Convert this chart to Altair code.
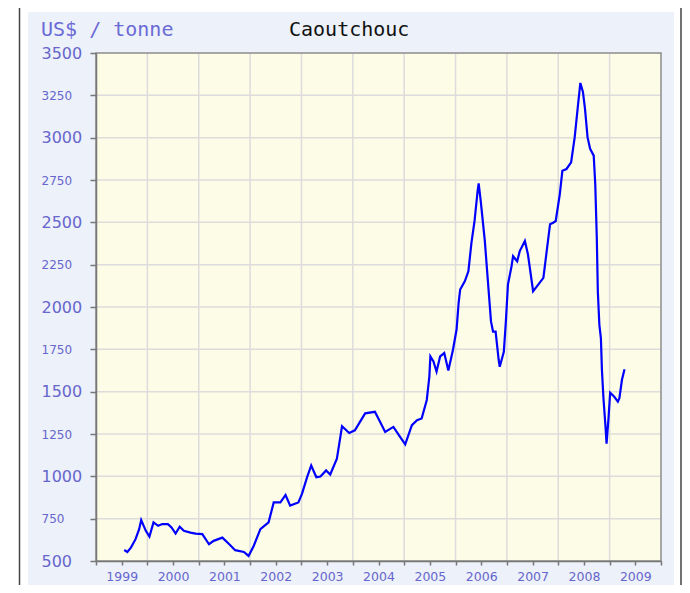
import altair as alt
import pandas as pd

# ---- data (decimal year, US$ per tonne) ----
years = [1999.55, 1999.61, 1999.68, 1999.77, 1999.84, 1999.88, 1999.97,
         2000.04, 2000.12, 2000.21, 2000.29, 2000.40, 2000.47, 2000.55, 2000.63, 2000.71, 2000.84, 2000.94,
         2001.07, 2001.20, 2001.29, 2001.46, 2001.58, 2001.71, 2001.88, 2001.97,
         2002.07, 2002.20, 2002.36, 2002.46, 2002.59, 2002.69, 2002.78, 2002.94,
         2003.01, 2003.11, 2003.19, 2003.29, 2003.37, 2003.48, 2003.56, 2003.69, 2003.79, 2003.93,
         2004.04, 2004.24, 2004.43, 2004.53, 2004.63, 2004.79, 2004.92,
         2005.02, 2005.15, 2005.25, 2005.34, 2005.44, 2005.49, 2005.51, 2005.57, 2005.63, 2005.70, 2005.78, 2005.86, 2005.95,
         2006.02, 2006.06, 2006.09, 2006.18, 2006.25, 2006.31, 2006.37, 2006.43, 2006.45, 2006.49, 2006.57, 2006.63,
         2006.69, 2006.73, 2006.78, 2006.84, 2006.86, 2006.94, 2006.98,
         2007.02, 2007.09, 2007.12, 2007.20, 2007.25, 2007.35, 2007.41, 2007.51, 2007.61, 2007.71, 2007.75, 2007.84, 2007.90, 2007.95,
         2008.03, 2008.08, 2008.16, 2008.25, 2008.32, 2008.38, 2008.43, 2008.48, 2008.52, 2008.57, 2008.62, 2008.69,
         2008.72, 2008.75, 2008.77, 2008.80, 2008.83, 2008.85, 2008.88, 2008.92, 2008.94, 2008.98,
         2009.01, 2009.09, 2009.16, 2009.19, 2009.24, 2009.29]
prices = [565, 553, 579, 629, 688, 742, 678,
          644, 728, 708, 718, 718, 698, 662, 702, 678, 668, 662,
          659, 599, 619, 638, 603, 564, 553, 530,
          589, 688, 728, 846, 846, 890, 827, 846,
          896, 995, 1064, 995, 999, 1035, 1011, 1104, 1296, 1256,
          1272, 1372, 1381, 1322, 1262, 1292, 1233,
          1189, 1302, 1332, 1342, 1451, 1589, 1708, 1678, 1619, 1708, 1728, 1625, 1748,
          1867, 2025, 2103, 2152, 2211, 2380, 2508, 2686, 2730, 2627, 2390, 2152,
          1915, 1855, 1855, 1687, 1647, 1735, 1915,
          2132, 2241, 2300, 2270, 2330, 2390, 2310, 2093, 2132, 2172, 2270, 2489, 2498, 2508,
          2667, 2805, 2815, 2854, 3003, 3181, 3323, 3270, 3171, 3003, 2934, 2894,
          2726, 2409, 2093, 1895, 1815, 1627, 1460, 1292, 1193, 1351,
          1494, 1470, 1441, 1461, 1570, 1633]

y_ticks = list(range(500, 3501, 250))
grid_years = list(range(2000, 2010))
x_ticks = [1999 + 0.5 * i for i in range(23)]
unit_label = "US$ / tonne"
chart_title = "Caoutchouc"

W, H = 565, 508
xscale = alt.Scale(domain=[1999, 2010], nice=False, zero=False)
yscale = alt.Scale(domain=[500, 3500], nice=False, zero=False)
one = alt.Data(values=[{}])
label_blue = "#6666cc"

x_axis = alt.Axis(values=x_ticks,
                  labelExpr="datum.value % 1 == 0.5 ? floor(datum.value) : ''",
                  grid=False, zindex=1, domainColor="#777777", domainWidth=1.5,
                  tickColor="#777777", tickSize=4, tickWidth=1.5,
                  labelFont="DejaVu Sans", labelFontSize=12.5, labelColor=label_blue,
                  labelPadding=5, labelOverlap=False, labelFlush=False)
y_axis = alt.Axis(values=y_ticks, format="d",
                  grid=False, zindex=1, domainColor="#777777", domainWidth=1.5,
                  tickColor="#777777", tickSize=6, tickWidth=1.5,
                  labelFont="DejaVu Sans",
                  labelFontSize={"condition": {"test": "datum.value % 500 == 0", "value": 16}, "value": 12},
                  labelColor=label_blue, labelAlign="left", labelBaseline="middle",
                  labelPadding=49, labelOverlap=False, labelFlush=False)

frame = alt.Chart(one).mark_rect(fill="white", stroke="#444444", strokeWidth=1.5).encode(
    x=alt.value(-76.5), x2=alt.value(585), y=alt.value(-80), y2=alt.value(600))
panel = alt.Chart(one).mark_rect(fill="#edf1fa").encode(
    x=alt.value(-68), x2=alt.value(578), y=alt.value(-41), y2=alt.value(540))
plotbg = alt.Chart(one).mark_rect(fill="#fdfce6").encode(
    x=alt.value(0), x2=alt.value(W), y=alt.value(0), y2=alt.value(H))

vgrid = alt.Chart(pd.DataFrame({"year": grid_years})).mark_rule(color="#dcdcdc", strokeWidth=1.5).encode(
    x=alt.X("year:Q", scale=xscale, title=None, axis=x_axis))
hgrid = alt.Chart(pd.DataFrame({"price": y_ticks[1:-1]})).mark_rule(color="#dcdcdc", strokeWidth=1.5).encode(
    y=alt.Y("price:Q", scale=yscale, title=None, axis=y_axis))

border = alt.Chart(one).mark_rect(fillOpacity=0, stroke="#8c8c8c", strokeWidth=1.5).encode(
    x=alt.value(0), x2=alt.value(W), y=alt.value(0), y2=alt.value(H))

df = pd.DataFrame({"year": years, "price": prices})
line = alt.Chart(df).mark_line(color="#0000ff", strokeWidth=2.2).encode(
    x=alt.X("year:Q", scale=xscale, title=None, axis=x_axis),
    y=alt.Y("price:Q", scale=yscale, title=None, axis=y_axis),
)

t_unit = alt.Chart(one).mark_text(text=unit_label, font="DejaVu Sans Mono", fontSize=20,
                                  color="#6b6bd6", align="left", baseline="alphabetic").encode(
    x=alt.value(-55), y=alt.value(-17))
t_title = alt.Chart(one).mark_text(text=chart_title, font="DejaVu Sans Mono", fontSize=20,
                                   color="#111111", align="left", baseline="alphabetic").encode(
    x=alt.value(193), y=alt.value(-17))

chart = alt.layer(frame, panel, plotbg, vgrid, hgrid, border, line, t_unit, t_title).properties(
    width=W, height=H,
    padding={"left": 88, "top": 45, "right": 21, "bottom": 24},
    autosize=alt.AutoSizeParams(type="none"),
    background="white",
).configure_view(stroke=None)

chart.save("out.html", embed_options={"renderer": "svg", "actions": False})
